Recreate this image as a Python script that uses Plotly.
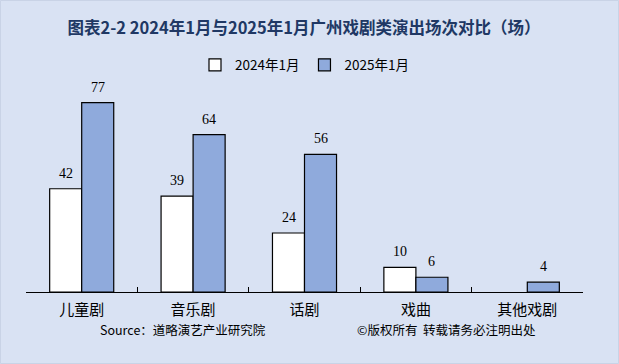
import plotly.graph_objects as go

categories = ["儿童剧", "音乐剧", "话剧", "戏曲", "其他戏剧"]
series_names = ["2024年1月", "2025年1月"]
values_2024 = [42, 39, 24, 10, None]
values_2025 = [77, 64, 56, 6, 4]
title_text = "图表2-2 2024年1月与2025年1月广州戏剧类演出场次对比（场）"
source_left = "Source：道略演艺产业研究院"
source_right = "©版权所有  转载请务必注明出处"

BG = "#D9E2F3"
FONT = "Noto Sans CJK SC, sans-serif"

fig = go.Figure()
fig.add_trace(go.Bar(x=categories, y=values_2024, name=series_names[0],
                     marker=dict(color="#FFFFFF", line=dict(color="#000000", width=1.2))))
fig.add_trace(go.Bar(x=categories, y=values_2025, name=series_names[1],
                     marker=dict(color="#8FAADC", line=dict(color="#000000", width=1.2))))

annotations = []
for vals, shift in ((values_2024, -16), (values_2025, 16)):
    for c, v in zip(categories, vals):
        if v is None:
            continue
        annotations.append(dict(x=c, y=v, xref="x", yref="y", text=str(v), showarrow=False,
                                xshift=shift, yanchor="bottom", yshift=6,
                                font=dict(size=14, color="#000000", family="Liberation Serif, serif")))
annotations.append(dict(x=98, y=329, xref="paper", yref="paper", text=source_left, showarrow=False))
annotations.append(dict(x=355, y=329, xref="paper", yref="paper", text=source_right, showarrow=False))
# convert pixel positions of source texts to paper coords
W, H = 619, 364
L, R, T, B = 26, 36, 83, 72
pw, ph = W - L - R, H - T - B
for a in annotations[-2:]:
    px, py = a["x"], a["y"]
    a["x"] = (px - L) / pw
    a["y"] = (H - B - py) / ph
    a["xanchor"] = "left"
    a["yanchor"] = "middle"
    a["font"] = dict(size=12.5, color="#000000", family=FONT)

fig.update_layout(
    width=W, height=H,
    margin=dict(l=L, r=R, t=T, b=B, autoexpand=False),
    paper_bgcolor=BG, plot_bgcolor=BG,
    barmode="group", bargap=0.425, bargroupgap=0,
    title=dict(text="<b>" + title_text + "</b>", x=304 / W, xanchor="center", y=1 - 28 / H, yanchor="middle",
               font=dict(size=16.5, color="#203864", family=FONT)),
    legend=dict(orientation="h", x=0.5, xanchor="center", y=1 - 65 / H, yref="container", yanchor="middle",
                font=dict(size=13.5, color="#000000", family=FONT), bgcolor="rgba(0,0,0,0)",
                itemwidth=30, traceorder="normal"),
    showlegend=True,
    annotations=annotations,
    xaxis=dict(showline=True, linecolor="#000000", linewidth=1, ticks="inside", tickson="boundaries",
               ticklen=5, tickcolor="#000000", tickfont=dict(size=15, color="#000000", family=FONT),
               ticklabelstandoff=4, showgrid=False, automargin=False),
    yaxis=dict(range=[0, 85], visible=False, showgrid=False, automargin=False),
    font=dict(family=FONT),
    shapes=[dict(type="rect", xref="paper", yref="paper", x0=(0.5 - L) / pw, x1=(W - 0.5 - L) / pw,
                 y0=(0.5 - B) / ph, y1=(H - 0.5 - B) / ph, line=dict(color="#C9D3E6", width=1))],
)

fig.write_html("out.html", config={"displayModeBar": False},
               post_script="document.body.style.margin='0';document.body.style.background='%s';" % BG)
